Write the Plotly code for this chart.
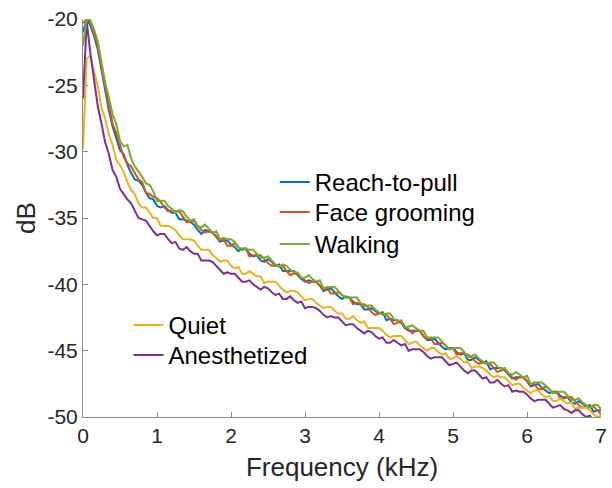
import numpy as np
import plotly.graph_objects as go

# Frequency grid (kHz), one sample every 50 Hz
freq_khz = np.round(np.arange(0, 141) * 0.05, 2)

# Power spectra (dB) for each behavioural state
reach_to_pull = [
    -21.0, -20.0, -20.5, -21.3, -22.3, -23.8, -25.5, -26.9, -28.1, -29.0,
    -29.9, -30.2, -31.0, -31.6, -32.1, -32.2, -32.5, -33.1, -33.5, -33.6,
    -34.1, -34.2, -34.1, -34.4, -34.6, -34.6, -35.1, -35.1, -35.2, -35.3,
    -35.5, -35.9, -36.2, -35.9, -36.0, -36.1, -36.4, -36.8, -36.7, -36.7,
    -37.0, -37.2, -37.5, -37.3, -37.3, -37.7, -37.9, -37.8, -38.2, -38.3,
    -38.1, -38.3, -38.6, -38.5, -39.0, -39.0, -39.0, -39.0, -39.3, -39.6,
    -39.8, -39.7, -39.8, -39.8, -40.1, -40.5, -40.4, -40.3, -40.6, -40.9,
    -41.1, -40.9, -41.0, -41.3, -41.5, -41.5, -41.9, -41.9, -41.8, -42.0,
    -42.2, -42.1, -42.7, -42.6, -42.7, -42.7, -42.9, -43.3, -43.5, -43.5,
    -43.5, -43.5, -43.9, -44.2, -44.2, -44.1, -44.4, -44.7, -44.9, -44.8,
    -44.8, -45.1, -45.3, -45.2, -45.7, -45.7, -45.5, -45.7, -45.9, -45.8,
    -46.4, -46.3, -46.3, -46.3, -46.5, -46.8, -47.1, -47.0, -47.0, -47.0,
    -47.3, -47.7, -47.6, -47.5, -47.8, -48.0, -48.2, -48.1, -48.1, -48.4,
    -48.6, -48.5, -48.9, -49.0, -48.8, -49.0, -49.2, -49.1, -49.6, -49.5,
    -49.5,
]

face_grooming = [
    -20.3, -20.0, -20.2, -21.1, -22.0, -23.6, -25.1, -26.4, -27.9, -28.6,
    -29.5, -30.4, -30.9, -31.1, -31.6, -32.1, -32.3, -33.1, -33.2, -33.4,
    -33.5, -33.8, -34.2, -34.5, -34.4, -34.5, -34.5, -34.9, -35.3, -35.3,
    -35.2, -35.6, -35.9, -36.1, -36.0, -36.1, -36.4, -36.7, -36.6, -37.1,
    -37.1, -36.9, -37.2, -37.4, -37.3, -37.9, -37.8, -37.8, -37.8, -38.1,
    -38.4, -38.6, -38.6, -38.6, -38.6, -39.0, -39.3, -39.2, -39.2, -39.5,
    -39.7, -39.9, -39.8, -39.8, -40.1, -40.4, -40.3, -40.7, -40.7, -40.6,
    -40.8, -41.0, -41.0, -41.5, -41.4, -41.5, -41.5, -41.7, -42.1, -42.3,
    -42.2, -42.2, -42.3, -42.6, -43.0, -42.9, -42.8, -43.2, -43.4, -43.7,
    -43.5, -43.5, -43.9, -44.1, -44.1, -44.5, -44.5, -44.4, -44.6, -44.9,
    -44.8, -45.3, -45.2, -45.2, -45.3, -45.5, -45.8, -46.0, -45.9, -45.9,
    -46.0, -46.3, -46.6, -46.5, -46.4, -46.7, -47.0, -47.2, -47.0, -47.0,
    -47.3, -47.6, -47.5, -47.9, -47.9, -47.7, -47.9, -48.2, -48.1, -48.6,
    -48.5, -48.5, -48.5, -48.8, -49.1, -49.3, -49.2, -49.2, -49.2, -49.5,
    -49.8,
]

quiet = [
    -29.8, -23.0, -22.8, -23.9, -25.1, -26.7, -27.5, -28.7, -29.5, -30.6,
    -31.1, -31.5, -32.3, -32.9, -33.2, -33.9, -34.2, -34.2, -34.6, -35.0,
    -35.0, -35.6, -35.6, -35.6, -35.7, -35.9, -36.3, -36.6, -36.6, -36.6,
    -36.7, -37.1, -37.4, -37.4, -37.4, -37.8, -38.0, -38.3, -38.2, -38.2,
    -38.6, -38.8, -38.7, -39.2, -39.2, -39.0, -39.2, -39.4, -39.4, -39.9,
    -39.8, -39.8, -39.8, -40.1, -40.4, -40.6, -40.5, -40.5, -40.6, -40.9,
    -41.2, -41.1, -41.1, -41.4, -41.6, -41.8, -41.7, -41.7, -42.0, -42.2,
    -42.2, -42.6, -42.6, -42.4, -42.7, -42.9, -42.8, -43.3, -43.3, -43.3,
    -43.3, -43.5, -43.8, -44.0, -43.9, -43.9, -43.9, -44.2, -44.5, -44.4,
    -44.3, -44.6, -44.8, -45.0, -44.8, -44.8, -45.1, -45.3, -45.2, -45.6,
    -45.6, -45.4, -45.6, -45.9, -45.8, -46.3, -46.2, -46.2, -46.3, -46.5,
    -46.8, -47.0, -46.9, -47.0, -47.0, -47.3, -47.6, -47.5, -47.5, -47.8,
    -48.0, -48.2, -48.0, -48.0, -48.3, -48.5, -48.4, -48.8, -48.8, -48.6,
    -48.8, -49.0, -48.9, -49.4, -49.3, -49.3, -49.3, -49.5, -49.8, -50.0,
    -49.9,
]

anesthetized = [
    -26.0, -20.2, -22.6, -24.7, -26.6, -27.9, -29.3, -30.2, -31.4, -31.9,
    -32.8, -33.2, -33.6, -33.9, -34.4, -35.0, -35.1, -35.2, -35.6, -36.0,
    -36.3, -36.2, -36.2, -36.6, -36.9, -36.8, -37.3, -37.4, -37.2, -37.5,
    -37.7, -37.7, -38.2, -38.2, -38.2, -38.3, -38.6, -38.9, -39.2, -39.1,
    -39.2, -39.2, -39.5, -39.8, -39.8, -39.7, -40.0, -40.2, -40.4, -40.2,
    -40.3, -40.6, -40.8, -40.7, -41.1, -41.1, -40.9, -41.2, -41.4, -41.3,
    -41.8, -41.7, -41.7, -41.8, -42.0, -42.3, -42.5, -42.4, -42.5, -42.5,
    -42.8, -43.1, -43.0, -43.0, -43.3, -43.5, -43.7, -43.5, -43.6, -43.9,
    -44.1, -44.0, -44.4, -44.4, -44.2, -44.4, -44.6, -44.5, -45.0, -44.9,
    -44.9, -44.9, -45.1, -45.4, -45.6, -45.5, -45.5, -45.5, -45.8, -46.1,
    -46.0, -45.9, -46.2, -46.5, -46.7, -46.5, -46.5, -46.8, -47.1, -47.0,
    -47.4, -47.4, -47.2, -47.5, -47.7, -47.6, -48.1, -48.0, -48.1, -48.1,
    -48.3, -48.6, -48.8, -48.7, -48.7, -48.7, -49.0, -49.3, -49.2, -49.1,
    -49.4, -49.5, -49.7, -49.5, -49.5, -49.8, -50.0, -49.9, -50.3, -50.3,
    -50.1,
]

walking = [
    -22.0, -20.0, -20.1, -20.8, -21.7, -23.2, -24.8, -25.9, -27.2, -27.9,
    -29.2, -29.6, -29.5, -30.5, -31.1, -31.5, -31.9, -32.4, -32.5, -33.0,
    -33.7, -33.7, -33.7, -34.1, -34.3, -34.6, -34.4, -34.5, -34.9, -35.2,
    -35.1, -35.6, -35.7, -35.5, -35.8, -36.1, -36.0, -36.6, -36.5, -36.6,
    -36.6, -36.8, -37.2, -37.4, -37.3, -37.4, -37.4, -37.7, -38.0, -38.0,
    -37.9, -38.2, -38.5, -38.7, -38.5, -38.6, -38.9, -39.1, -39.1, -39.5,
    -39.5, -39.3, -39.6, -39.8, -39.7, -40.3, -40.2, -40.2, -40.2, -40.5,
    -40.8, -41.0, -41.0, -41.0, -41.0, -41.4, -41.7, -41.6, -41.6, -41.9,
    -42.1, -42.3, -42.2, -42.2, -42.6, -42.8, -42.7, -43.2, -43.2, -43.1,
    -43.3, -43.5, -43.5, -44.0, -44.0, -44.0, -44.0, -44.3, -44.6, -44.9,
    -44.8, -44.8, -44.8, -45.1, -45.5, -45.4, -45.3, -45.6, -45.8, -46.0,
    -45.9, -45.9, -46.2, -46.4, -46.3, -46.7, -46.8, -46.6, -46.8, -47.0,
    -46.9, -47.5, -47.4, -47.4, -47.4, -47.6, -47.9, -48.2, -48.1, -48.1,
    -48.1, -48.4, -48.7, -48.7, -48.6, -48.9, -49.1, -49.3, -49.1, -49.1,
    -49.4,
]

x_ticks = [0, 1, 2, 3, 4, 5, 6, 7]
y_ticks = [-50, -45, -40, -35, -30, -25, -20]

# (name, values, colour, legend id) in plotting order
series = [
    ("Reach-to-pull", reach_to_pull, "#0072BD", "legend"),
    ("Face grooming", face_grooming, "#D95319", "legend2"),
    ("Quiet", quiet, "#EDB120", "legend4"),
    ("Anesthetized", anesthetized, "#7E2F8E", "legend5"),
    ("Walking", walking, "#77AC30", "legend3"),
]

# top-left anchor of each single-entry legend box (paper coordinates)
legend_anchor = {
    "legend": (0.3702, 0.6457),
    "legend2": (0.3702, 0.5704),
    "legend3": (0.3702, 0.4899),
    "legend4": (0.0878, 0.2864),
    "legend5": (0.0878, 0.2111),
}

FONT = "Arial, Liberation Sans, Helvetica, sans-serif"
AXIS_GREY = "#8c8c8c"
TEXT = "#262626"

fig = go.Figure()
for name, values, colour, leg in series:
    fig.add_trace(go.Scatter(
        x=freq_khz, y=values, mode="lines", name=name,
        line=dict(color=colour, width=2),
        legend=leg, showlegend=True,
    ))

legends = {}
for leg, (lx, ly) in legend_anchor.items():
    legends[leg] = dict(
        x=lx, y=ly, xanchor="left", yanchor="top",
        font=dict(family=FONT, size=24, color="#000000"),
        bgcolor="rgba(0,0,0,0)", borderwidth=0, itemwidth=30,
        visible=True,
    )

fig.update_layout(
    width=612, height=488,
    showlegend=True,
    margin=dict(l=83, r=5, t=19, b=71),
    paper_bgcolor="white", plot_bgcolor="white",
    font=dict(family=FONT, color=TEXT),
    xaxis=dict(
        range=[0, 7], tickvals=x_ticks, ticktext=[str(v) for v in x_ticks],
        showgrid=False, zeroline=False,
        showline=True, linecolor=AXIS_GREY, linewidth=1,
        ticks="inside", ticklen=5, tickcolor=AXIS_GREY, tickwidth=1,
        ticklabeloverflow="allow",
        tickfont=dict(family=FONT, size=21, color=TEXT),
        title=dict(text="Frequency (kHz)", standoff=11,
                   font=dict(family=FONT, size=26, color=TEXT)),
    ),
    yaxis=dict(
        range=[-50, -20], tickvals=y_ticks, ticktext=[str(v) for v in y_ticks],
        showgrid=False, zeroline=False,
        showline=True, linecolor=AXIS_GREY, linewidth=1,
        ticks="inside", ticklen=5, tickcolor=AXIS_GREY, tickwidth=1,
        tickfont=dict(family=FONT, size=21, color=TEXT),
        title=dict(text="dB", standoff=4,
                   font=dict(family=FONT, size=26, color=TEXT)),
    ),
    **legends,
)

fig.write_html("out.html")
